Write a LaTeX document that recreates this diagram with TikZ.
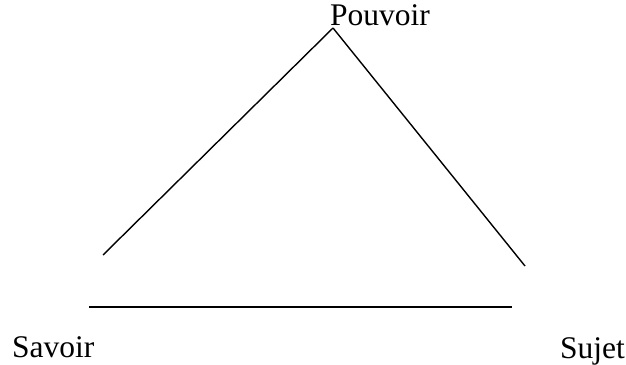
\documentclass[tikz,border=0pt]{standalone}
\usepackage{fontspec}
\setmainfont{Liberation Serif}
\usetikzlibrary{positioning}

\tikzset{
  edge/.style={line width=1.4pt, black},
  label/.style={inner sep=0pt, font=\fontsize{31.5}{36}\selectfont}
}

\begin{document}
\begin{tikzpicture}[x=1pt, y=-1pt]
\useasboundingbox (0,0) rectangle (626,364);

% Corners
\coordinate (apex) at (333,28);
\coordinate (leftend) at (103,255);
\coordinate (rightend) at (525,266);
\coordinate (baseleft) at (89,307);
\coordinate (baseright) at (512,307);

% Labels
\node[label, anchor=base west] (pouvoir) at (330,25) {Pouvoir};
\node[label, anchor=base west] (savoir) at (12,357) {Savoir};
\node[label, anchor=base west] (sujet) at (560,358) {Sujet};

% Sides
\draw[edge] (apex) -- (leftend);
\draw[edge] (apex) -- (rightend);
\draw[edge] (baseleft) -- (baseright);

\end{tikzpicture}
\end{document}
